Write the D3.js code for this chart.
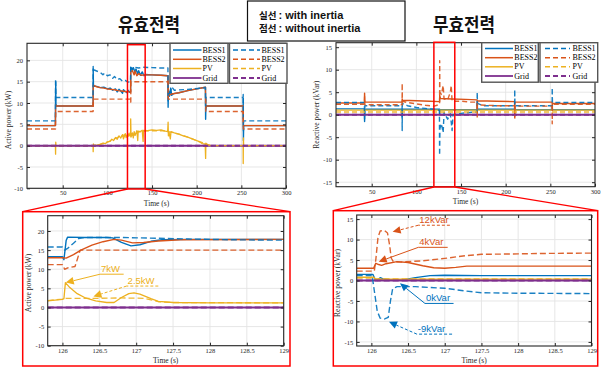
<!DOCTYPE html>
<html><head><meta charset="utf-8">
<script src="https://cdn.jsdelivr.net/npm/d3@7"></script>
<style>body{margin:0;background:#fff}svg{display:block}</style>
</head><body>
<script>
// ---------------- DATA ----------------
const seriesNames = ["BESS1","BESS2","PV","Grid"];
const titleActive = "유효전력", titleReactive = "무효전력";
const infoKo = ["실선","점선"];
const infoEn = [" : with inertia"," : without inertia"];
const xTicksFull = [50,100,150,200,250,300];
const yTicksActive = [-10,-5,0,5,10,15,20];
const yTicksReactive = [-15,-10,-5,0,5,10,15];
const xTicksZoom = [126,126.5,127,127.5,128,128.5,129];

// Active power, full range (solid = with inertia, dashed = without)
const actB1 = [[10,4.7],[41.8,4.7],[42.0,12.3],[42.2,15.0],[42.4,9.8],[42.8,9.3],[84,9.3],[84.1,18.0],[84.4,14.0],[88,13.9],[92,13.6],[96,13.7],[100,13.3],[103,13.5],[106,13.0],[109,13.3],[111,12.6],[113,13.2],[115,12.8],[117,12.3],[118,13.1],[120,12.7],[122,12.4],[123,13.0],[125,12.5],[126,12.6],[126.1,18.4],[128,17.8],[129,18.3],[131,17.2],[132,18.0],[134,16.8],[135,17.6],[137,16.5],[139,17.3],[141,16.4],[143,16.7],[150,16.6],[160,16.5],[167.8,16.4],[168.0,9.0],[168.3,12.8],[169.5,11.6],[171,13.5],[172,11.8],[174,12.2],[180,12.4],[190,12.9],[200,13.3],[209.8,13.7],[210,6.2],[210.3,9.0],[211,9.3],[252,9.3],[252.1,11.0],[252.3,1.2],[252.6,4.7],[300,4.7]];
const actB2 = [[10,4.7],[41.8,4.7],[42.1,9.6],[42.8,9.3],[84,9.3],[84.2,14.2],[88,13.8],[92,13.6],[96,13.5],[100,13.3],[104,13.2],[108,13.1],[112,12.9],[116,12.8],[120,12.7],[124,12.6],[126,12.6],[126.2,17.3],[128,17.6],[130,16.6],[131,17.5],[133,16.4],[135,16.9],[138,16.5],[142,16.6],[150,16.6],[160,16.5],[167.8,16.4],[168.1,11.2],[168.5,12.0],[170,11.9],[172,12.1],[180,12.4],[190,12.9],[200,13.3],[209.8,13.7],[210.1,8.8],[211,9.3],[252,9.3],[252.2,5.0],[252.6,4.7],[300,4.7]];
const actPV = [[10,0],[41.8,0],[42.0,-2.0],[42.2,0.8],[42.5,0],[84,0],[84.1,-1.4],[84.3,0.4],[85,0],[88,0.1],[92,0.3],[95,0.6],[98,0.5],[100,0.9],[103,1.0],[105,1.5],[107,1.2],[109,1.9],[111,1.5],[113,2.3],[115,1.8],[117,2.6],[118,1.6],[120,2.8],[121,1.9],[123,2.9],[124,2.2],[125.5,3.0],[126,2.2],[126.1,6.3],[126.5,2.0],[128,3.0],[129,1.8],[130,3.3],[131,2.4],[133,3.5],[134,1.2],[134.5,3.4],[137,3.3],[139,3.6],[140,1.0],[140.5,3.6],[145,3.5],[150,3.7],[155,3.6],[160,3.7],[165,3.4],[167.5,3.3],[168,5.5],[168.3,2.3],[169,3.2],[170.5,1.6],[171.2,3.3],[175,3.0],[180,2.7],[185,2.3],[190,2.0],[195,1.6],[200,1.2],[203,0.9],[206,0.5],[209.5,0.4],[210,-3.0],[210.3,0.6],[211,0.4],[214,0.1],[216,0],[252,0],[252.1,-4.2],[252.3,1.8],[252.6,0],[300,0]];
const actGrid = [[10,0],[300,0]];
const actB1d = [[10,5.8],[41.8,5.8],[42.0,15.6],[42.2,13.0],[42.4,11.3],[84,11.3],[84.1,18.6],[84.5,17.8],[88,17.5],[92,17.2],[95,16.6],[97,17.0],[100,16.4],[103,16.6],[106,15.8],[108,16.2],[111,15.5],[114,15.7],[117,15.1],[120,15.3],[123,14.9],[125.8,15.0],[126.3,18.1],[130,18.4],[135,18.2],[140,18.4],[150,18.3],[160,18.2],[167.8,18.2],[168.0,10.5],[168.4,13.3],[170,12.5],[172,13.8],[175,13.0],[190,13.2],[209.8,13.6],[210,8.5],[210.4,11.3],[252,11.3],[252.1,12.0],[252.3,3.5],[252.6,5.8],[300,5.8]];
const actB2d = [[10,3.9],[41.9,3.9],[42.1,8.0],[84,8.0],[84.2,10.9],[126,10.9],[126.2,10.2],[126.3,15.0],[168,15.0],[168.2,10.9],[210,10.9],[210.2,8.0],[252,8.0],[252.2,3.9],[300,3.9]];
const actPVd = [[10,0],[84,0],[90,0.2],[100,0.8],[110,1.8],[120,2.6],[126,2.4],[130,3.0],[140,3.4],[150,3.5],[160,3.5],[168,3.3],[180,2.7],[190,2.0],[200,1.2],[210,0.4],[215,0],[300,0]];
const actGridd = [[10,0],[300,0]];

// Reactive power, full range
const reB1 = [[10,1.3],[41.8,1.3],[42,-1.5],[42.3,1.2],[84,1.2],[84.1,-0.5],[84.4,1.2],[126,1.2],[126.05,0],[126.5,1.1],[168,1.1],[168.1,2.5],[168.4,1.2],[210,1.2],[210.1,2.0],[210.4,1.1],[252,1.1],[252.1,1.8],[252.4,1.1],[300,1.1]];
const reB2 = [[10,2.6],[41.8,2.6],[42,4.8],[42.3,2.8],[84,2.8],[84.1,3.5],[84.4,3.2],[100,3.1],[115,3.0],[126,2.9],[126.1,4.3],[127,3.6],[140,3.5],[155,3.4],[168,3.3],[168.1,0.5],[168.4,3.1],[190,3.0],[210,2.9],[210.1,-0.5],[210.4,2.8],[252,2.8],[252.1,1.5],[252.4,2.5],[300,2.5]];
const rePV = [[10,1.0],[300,1.0]];
const reGrid = [[10,0],[300,0]];
const reB1d = [[10,2.7],[41.8,2.7],[42,-1.0],[42.3,2.0],[84,2.0],[84.1,-3.5],[84.3,2.5],[90,2.0],[100,1.6],[110,1.4],[120,1.2],[125.8,1.0],[126,-9.0],[126.4,-3.0],[128,-2.0],[130,-4.0],[131,0.5],[135,-1.0],[138,0.2],[140,-3.5],[141,0],[150,0.3],[160,0.5],[168,0.6],[168.1,5.0],[168.4,2.5],[175,2.0],[190,2.0],[210,2.0],[210.1,5.6],[210.4,2.0],[252,2.0],[252.1,6.0],[252.2,4.0],[252.4,2.7],[300,2.7]];
const reB2d = [[10,2.3],[41.8,2.3],[42,4.0],[42.3,2.2],[84,2.2],[84.1,7.0],[84.3,3.0],[90,2.7],[100,2.4],[110,2.1],[120,1.9],[126,2.3],[126.1,12.0],[126.3,5.0],[128,4.5],[130,6.5],[131,3.5],[135,3.3],[138,5.0],[139,6.5],[140,3.0],[150,3.0],[160,2.8],[168,2.8],[168.1,-0.8],[168.3,2.2],[190,2.0],[210,2.0],[210.1,-1.0],[210.3,1.9],[252,1.9],[252.1,-2.0],[252.3,2.3],[300,2.3]];
const rePVd = [[10,0.6],[300,0.6]];
const reGridd = [[10,0],[300,0]];

// Active power, zoom 125.8-129 s
const zaB1 = [[125.8,13.3],[126.0,13.3],[126.02,12.5],[126.05,17.5],[126.07,18.4],[126.3,18.3],[126.6,18.3],[126.68,18.2],[126.8,17.0],[126.93,16.1],[127.05,16.4],[127.2,17.3],[127.35,17.7],[127.7,17.8],[129,17.8]];
const zaB2 = [[125.8,13.0],[126.0,13.0],[126.05,12.9],[126.15,13.8],[126.25,15.0],[126.4,16.3],[126.55,17.2],[126.7,17.8],[126.8,17.6],[126.95,16.9],[127.1,17.0],[127.3,17.4],[127.6,17.7],[129,17.8]];
const zaPV = [[125.8,1.7],[126.0,2.1],[126.02,2.3],[126.04,6.5],[126.1,5.2],[126.2,3.6],[126.3,2.6],[126.45,1.7],[126.6,1.3],[126.7,1.3],[126.8,2.6],[126.9,3.6],[126.97,3.8],[127.05,3.5],[127.2,2.3],[127.3,1.6],[127.5,1.3],[128,1.2],[129,1.2]];
const zaGrid = [[125.8,0],[129,0]];
const zaB1d = [[125.8,15.8],[126.0,15.8],[126.03,15.0],[126.08,15.6],[126.15,16.8],[126.22,18.0],[126.3,18.3],[126.8,18.3],[127.3,18.1],[127.7,17.9],[128.3,17.7],[129,17.6]];
const zaB2d = [[125.8,11.2],[126.0,11.2],[126.03,10.0],[126.08,10.4],[126.17,10.7],[126.2,12.5],[126.24,15.0],[129,15.0]];
const zaPVd = [[125.8,1.8],[126.0,2.2],[126.05,2.4],[126.5,2.4],[126.8,2.5],[127.1,2.4],[127.2,2.0],[127.3,1.5],[127.5,1.3],[129,1.2]];
const zaGridd = [[125.8,0],[129,0]];

// Reactive power, zoom 125.8-129 s
const zrB1 = [[125.8,1.5],[126.02,1.5],[126.05,0.3],[126.08,0.0],[126.12,0.7],[126.16,0.4],[126.3,0.1],[126.45,0.2],[126.6,0.7],[126.8,1.2],[127,1.3],[127.5,1.2],[129,1.2]];
const zrB2 = [[125.8,3.0],[126.03,3.0],[126.06,4.2],[126.1,3.9],[126.14,3.7],[126.2,4.1],[126.35,4.6],[126.5,4.4],[126.7,3.6],[126.85,3.1],[127.0,3.0],[127.15,3.2],[127.3,3.5],[127.5,3.5],[129,3.5]];
const zrPV = [[125.8,0.8],[126.03,0.8],[126.06,0.3],[129,0.35]];
const zrGrid = [[125.8,0],[129,0]];
const zrB1d = [[125.8,1.2],[126.01,1.2],[126.04,-2.5],[126.08,-7.5],[126.12,-9.2],[126.18,-9.4],[126.23,-9.0],[126.26,-5.0],[126.29,-2.0],[126.35,-1.5],[126.6,-1.5],[126.8,-1.7],[127.0,-1.9],[127.3,-2.6],[127.5,-3.0],[128,-3.1],[129,-3.2]];
const zrB2d = [[125.8,2.3],[126.04,2.3],[126.06,5.0],[126.09,10.5],[126.12,12.1],[126.18,12.2],[126.22,11.6],[126.25,8.5],[126.27,5.5],[126.3,4.6],[126.4,4.5],[126.7,4.8],[127.0,5.4],[127.3,6.1],[127.5,6.4],[128,6.5],[128.3,6.6],[129,6.7]];
const zrPVd = [[125.8,0.6],[126.03,0.6],[126.06,0.4],[129,0.4]];
const zrGridd = [[125.8,0],[129,0]];

// callouts (data coords of lower panels): tip, elbow, end of underline
const calloutsActive = [
  {t:"7kW", c:"y", dash:false, tip:[126.045,6.5], elbow:[126.51,8.7], end:[126.83,8.7]},
  {t:"2.5kW", c:"y", dash:true, tip:[126.42,2.9], elbow:[126.87,5.6], end:[127.30,5.6]}
];
const calloutsReactive = [
  {t:"12kVar", c:"o", dash:true, tip:[126.29,11.9], elbow:[126.64,13.5], end:[127.07,13.5]},
  {t:"4kVar", c:"o", dash:false, tip:[126.10,4.6], elbow:[126.64,8.1], end:[127.04,8.1]},
  {t:"0kVar", c:"b", dash:false, tip:[126.39,-0.7], elbow:[126.73,-5.6], end:[127.12,-5.6]},
  {t:"-9kVar", c:"b", dash:true, tip:[126.24,-10.1], elbow:[126.62,-13.1], end:[127.10,-13.1]}
];
const highlightTL = [122.5,142.3], highlightTR = [119.6,143];

// ---------------- DRAW ----------------
const W=603,H=367;
const C={b:"#0072BD",o:"#D95319",y:"#EDB120",p:"#7E2F8E"};
const svg=d3.select("body").append("svg").attr("width",W).attr("height",H);
const SERIF="'Liberation Serif','Times New Roman',serif";
const fmt=d=>String(d);

function mkSeries(s,sd){
  const cols=[C.b,C.o,C.y,C.p], ws=[1.4,1.4,1.3,2.0];
  const out=[];
  s.forEach((d,i)=>out.push({d,c:cols[i],dash:false,w:ws[i]}));
  sd.forEach((d,i)=>out.push({d,c:cols[i],dash:true,w:ws[i]}));
  return out;
}

function panel(p){
  const x=d3.scaleLinear().domain(p.xd).range(p.xr);
  const y=d3.scaleLinear().domain(p.yd).range(p.yr);
  const L=p.xr[0],R=p.xr[1],B=p.yr[0],T=p.yr[1];
  const g=svg.append("g");
  svg.append("clipPath").attr("id","c"+p.id).append("rect").attr("x",L).attr("y",T).attr("width",R-L).attr("height",B-T);
  g.append("rect").attr("x",L).attr("y",T).attr("width",R-L).attr("height",B-T).attr("fill","#fff");
  g.append("g").selectAll("line").data(p.xt).join("line")
    .attr("x1",d=>x(d)).attr("x2",d=>x(d)).attr("y1",T).attr("y2",B).attr("stroke","#e4e4e4").attr("stroke-width",0.9);
  g.append("g").selectAll("line").data(p.yt).join("line")
    .attr("y1",d=>y(d)).attr("y2",d=>y(d)).attr("x1",L).attr("x2",R).attr("stroke","#e4e4e4").attr("stroke-width",0.9);
  const line=d3.line().x(d=>x(d[0])).y(d=>y(d[1]));
  const lg=g.append("g").attr("clip-path",`url(#c${p.id})`);
  p.series.forEach(s=>{
    lg.append("path").attr("d",line(s.d)).attr("fill","none").attr("stroke",s.c)
      .attr("stroke-width",s.w).attr("stroke-linejoin","round")
      .attr("stroke-dasharray",s.dash?(p.dashPat||"5,3"):null)
      .attr("opacity",s.dash?0.9:1);
  });
  const style=(sel)=>{sel.select(".domain").remove();
    sel.selectAll(".tick line").attr("stroke","#262626");
    sel.selectAll("text").attr("font-family",SERIF).attr("font-size",6.5).attr("fill","#262626");};
  g.append("g").attr("transform",`translate(0,${B})`).call(d3.axisBottom(x).tickValues(p.xt).tickSize(-3).tickPadding(2.5).tickFormat(fmt)).call(style);
  g.append("g").attr("transform",`translate(0,${T})`).call(d3.axisTop(x).tickValues(p.xt).tickSize(-3).tickFormat("")).call(style);
  g.append("g").attr("transform",`translate(${L},0)`).call(d3.axisLeft(y).tickValues(p.yt).tickSize(-3).tickPadding(p.ypad).tickFormat(fmt)).call(style);
  g.append("g").attr("transform",`translate(${R},0)`).call(d3.axisRight(y).tickValues(p.yt).tickSize(-3).tickFormat("")).call(style);
  g.append("rect").attr("x",L).attr("y",T).attr("width",R-L).attr("height",B-T).attr("fill","none").attr("stroke","#262626").attr("stroke-width",1.1);
  g.append("text").attr("x",(L+R)/2).attr("y",p.xlabY).attr("text-anchor","middle").attr("font-size",7.5).attr("fill","#262626").attr("font-family",SERIF).text("Time (s)");
  g.append("text").attr("transform",`translate(${p.ylabX},${p.ylabYc}) rotate(-90)`).attr("text-anchor","middle").attr("font-size",7.5).attr("fill","#262626").attr("font-family",SERIF).text(p.ylab);
  return {x,y,g};
}

function legend(bx,by,bw,bh,rows,lx0,lx1,tx,dashed){
  const g=svg.append("g");
  g.append("rect").attr("x",bx).attr("y",by).attr("width",bw).attr("height",bh).attr("fill","#fff").attr("stroke","#555").attr("stroke-width",1.4);
  const cols=[C.b,C.o,C.y,C.p];
  seriesNames.forEach((n,i)=>{
    g.append("line").attr("x1",lx0).attr("x2",lx1).attr("y1",rows[i]).attr("y2",rows[i]).attr("stroke",cols[i]).attr("stroke-width",i==3?1.8:1.5).attr("stroke-dasharray",dashed?"5,3":null);
    g.append("text").attr("x",tx).attr("y",rows[i]+2.6).attr("font-size",8).attr("font-family",SERIF).attr("fill","#000").text(n);
  });
}

function callouts(P,list){
  list.forEach(a=>{
    const col=C[a.c];
    const tp=[P.x(a.tip[0]),P.y(a.tip[1])], el=[P.x(a.elbow[0]),P.y(a.elbow[1])], en=[P.x(a.end[0]),P.y(a.end[1])];
    const dash=a.dash?"3,2":null;
    const ang=Math.atan2(tp[1]-el[1],tp[0]-el[0]);
    const len=8, hw=3.8;
    const bxp=tp[0]-len*Math.cos(ang), byp=tp[1]-len*Math.sin(ang);
    svg.append("path").attr("d",d3.line()([[el[0],el[1]],[bxp,byp]])).attr("stroke",col).attr("stroke-width",1).attr("stroke-dasharray",dash).attr("fill","none");
    svg.append("path").attr("d",d3.line()([[en[0],en[1]],[el[0],el[1]]])).attr("stroke",col).attr("stroke-width",1).attr("stroke-dasharray",dash).attr("fill","none");
    const px=-Math.sin(ang), py=Math.cos(ang);
    svg.append("path").attr("d",`M${tp[0]},${tp[1]}L${bxp+hw*px},${byp+hw*py}L${bxp-hw*px},${byp-hw*py}Z`).attr("fill",col);
    svg.append("text").attr("x",el[0]+1).attr("y",el[1]-2.5).attr("font-family","'Liberation Sans',Arial,sans-serif").attr("font-size",9.5).attr("fill",col).text(a.t);
  });
}

// titles and info box
[[titleActive,149],[titleReactive,464]].forEach(([t,cx])=>{
  svg.append("text").attr("x",cx).attr("y",31.5).attr("text-anchor","middle").attr("font-family","'Noto Sans CJK KR',sans-serif").attr("font-weight","bold").attr("font-size",19).attr("textLength",62).attr("lengthAdjust","spacingAndGlyphs").attr("fill","#111").text(t);
});
svg.append("rect").attr("x",247.5).attr("y",1).attr("width",157.5).attr("height",40).attr("fill","#fff").attr("stroke","#111").attr("stroke-width",1.2);
[18.8,31.6].forEach((by,i)=>{
  svg.append("text").attr("x",259).attr("y",by).attr("font-family","'Noto Sans CJK KR',sans-serif").attr("font-weight","bold").attr("font-size",9.5).attr("fill","#111").text(infoKo[i]);
  svg.append("text").attr("x",278.5).attr("y",by).attr("font-family","'Liberation Sans',Arial,sans-serif").attr("font-weight","bold").attr("font-size",11).attr("fill","#111").text(infoEn[i]);
});

// zoom frames
svg.append("rect").attr("x",22.7).attr("y",211.7).attr("width",267.3).attr("height",154.3).attr("fill","none").attr("stroke","#f00").attr("stroke-width",1.5);
svg.append("rect").attr("x",333.3).attr("y",210.7).attr("width",264.4).attr("height",155.3).attr("fill","none").attr("stroke","#f00").attr("stroke-width",1.5);

const TL=panel({id:"tl",xd:[10,300],yd:[-10,24],xr:[27,286],yr:[188.3,43.3],xt:xTicksFull,yt:yTicksActive,
  series:mkSeries([actB1,actB2,actPV,actGrid],[actB1d,actB2d,actPVd,actGridd]),xlabY:205.5,ylab:"Active power (kW)",ylabX:11,ylabYc:120,ypad:4});
const TR=panel({id:"tr",xd:[10,300],yd:[-16,16],xr:[336,595],yr:[186.7,42.7],xt:xTicksFull,yt:yTicksReactive,
  series:mkSeries([reB1,reB2,rePV,reGrid],[reB1d,reB2d,rePVd,reGridd]),xlabY:204,ylab:"Reactive power (kVar)",ylabX:319,ylabYc:114.7,ypad:4});
const BL=panel({id:"bl",xd:[125.8,129],yd:[-10,24],xr:[47.7,283.7],yr:[345.7,215.7],xt:xTicksZoom,yt:yTicksActive,
  series:mkSeries([zaB1,zaB2,zaPV,zaGrid],[zaB1d,zaB2d,zaPVd,zaGridd]),xlabY:363,ylab:"Active power (kW)",ylabX:31,ylabYc:283,ypad:3.5,dashPat:"6,3"});
const BR=panel({id:"br",xd:[125.8,129],yd:[-16,16],xr:[356.7,591.5],yr:[346,215],xt:xTicksZoom,yt:yTicksReactive,
  series:mkSeries([zrB1,zrB2,zrPV,zrGrid],[zrB1d,zrB2d,zrPVd,zrGridd]),xlabY:363,ylab:"Reactive power (kVar)",ylabX:340,ylabYc:283,ypad:3.5,dashPat:"6,3"});

legend(170,43.3,58,40,[50,59.3,68.5,78],173,201.5,202.5,false);
legend(229.5,43.3,57.5,40,[50,59.3,68.5,78],233,260,261.5,true);
legend(481.7,42.7,56.6,39.5,[48.5,57.7,66.8,76],485,513,514.3,false);
legend(540,42.7,57.7,39.5,[48.5,57.7,66.8,76],545,570,572.5,true);

function highlight(P,h,top,bot,zx0,zx1,zy){
  const a=P.x(h[0]), b=P.x(h[1]);
  svg.append("rect").attr("x",a).attr("y",top).attr("width",b-a).attr("height",bot-top).attr("fill","none").attr("stroke","#f00").attr("stroke-width",1.5);
  svg.append("line").attr("x1",a).attr("y1",bot).attr("x2",zx0).attr("y2",zy).attr("stroke","#f00").attr("stroke-width",1.3);
  svg.append("line").attr("x1",b).attr("y1",bot).attr("x2",zx1).attr("y2",zy).attr("stroke","#f00").attr("stroke-width",1.3);
}
highlight(TL,highlightTL,44.7,189,22.7,290,211.7);
highlight(TR,highlightTR,42.3,187,333.3,597.7,210.7);

callouts(BL,calloutsActive);
callouts(BR,calloutsReactive);
</script>
</body></html>
